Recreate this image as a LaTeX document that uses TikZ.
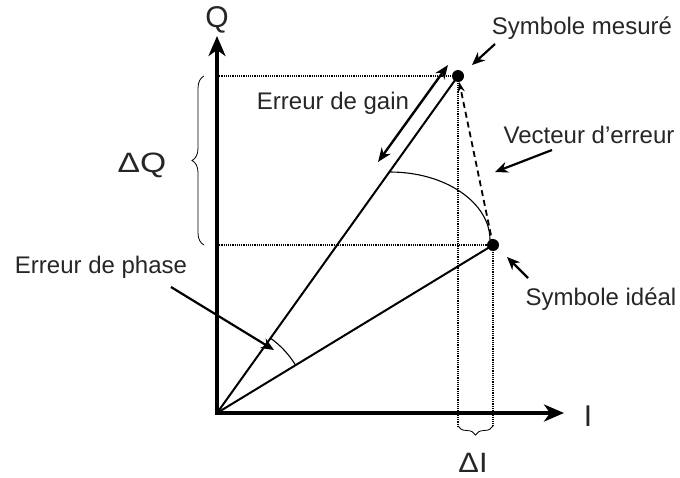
\documentclass[tikz,border=0pt]{standalone}
\usepackage{fontspec}
\setmainfont{Liberation Sans}
\usetikzlibrary{arrows.meta,decorations.pathreplacing}
\begin{document}
\begin{tikzpicture}[x=1pt,y=-1pt,
  axis/.style={line width=3.5pt,line join=miter,{Stealth[length=20pt,width=17pt,inset=6pt]}-{Stealth[length=20pt,width=17pt,inset=6pt]}},
  vec/.style={line width=2pt},
  guide/.style={densely dotted,line width=1.2pt},
  lbl/.style={font=\fontsize{24}{28}\selectfont,inner sep=0pt,text=black!85},
  big/.style={font=\fontsize{30}{32}\selectfont,inner sep=0pt,text=black!85},
  mid/.style={font=\fontsize{28}{30}\selectfont,inner sep=0pt,text=black!85},
  ptr/.style={line width=2.2pt,-{Stealth[length=13pt,width=11pt]}},
  dot/.style={circle,fill,inner sep=0pt,minimum size=12pt},
  brc/.style={decorate,line width=0.8pt}]
\useasboundingbox (0,0) rectangle (680,477);
% key points
\coordinate (O) at (217,413);
\coordinate (Qt) at (217,36);
\coordinate (It) at (564,413);
\node[dot] (M) at (458,76) {};
\node[dot] (P) at (493,245) {};
% guides
\coordinate (QM) at (217,76);
\coordinate (QP) at (217,245);
\coordinate (IM) at (458,426);
\coordinate (IP) at (493,426);
\draw[guide] (QM) -- (M.center);
\draw[guide] (QP) -- (P.center);
\draw[guide] (M.center) -- (IM);
\draw[guide] (P.center) -- (IP);
% axes
\draw[axis] (Qt) -- (O) -- (It);
% vectors
\draw[vec] (O) -- (M.center);
\draw[vec] (O) -- (P.center);
% error vector
\draw[line width=1.8pt,dash pattern=on 6pt off 4pt,-{Stealth[length=10pt,width=7pt]}] (P.center) -- (M);
% gain error arrow
\coordinate (G1) at (378,162);
\coordinate (G2) at (448,65);
\draw[line width=2.4pt,{Stealth[length=14pt,width=11pt]}-{Stealth[length=14pt,width=11pt]}] (G1) -- (G2);
% arcs
\coordinate (A1) at (390,172);
\coordinate (A2) at (490,240);
\draw[line width=1.1pt] (A1) .. controls (446,172) and (490,203) .. (A2);
\draw[line width=1.1pt] (O) ++(-54.4:92) arc[start angle=-54.4,end angle=-31.3,radius=92];
% braces
\coordinate (B1) at (204,245);
\coordinate (B2) at (204,76);
\draw[brc,decoration={brace,amplitude=12pt}] (B1) -- (B2);
\draw[brc,decoration={brace,amplitude=9pt,mirror}] (IM) -- (IP);
% axis labels
\node[big] (Ql) at (217,20) {Q};
\node[big] (Il) at (588,416) {I};
\node[mid] (dQ) at (142,165) {\scalebox{1.2}[1]{ΔQ}};
\node[mid] (dI) at (473,463) {\scalebox{1.1}[1]{ΔI}};
% text labels
\node[lbl] (sm) at (582,28) {Symbole mesuré};
\node[lbl] (ve) at (589,135) {Vecteur d’erreur};
\node[lbl] (si) at (601,299) {Symbole idéal};
\node[lbl] (eg) at (333,103) {Erreur de gain};
\node[lbl] (ep) at (101,267) {Erreur de phase};
% pointers
\coordinate (smA) at (495,44);
\coordinate (smB) at (472,65);
\coordinate (veA) at (552,150);
\coordinate (veB) at (495,172);
\coordinate (siA) at (528,278);
\coordinate (siB) at (507,257);
\coordinate (epA) at (171,287);
\coordinate (epB) at (274,350);
\draw[ptr] (smA) -- (smB);
\draw[ptr] (veA) -- (veB);
\draw[ptr] (siA) -- (siB);
\draw[ptr] (epA) -- (epB);
\end{tikzpicture}
\end{document}
